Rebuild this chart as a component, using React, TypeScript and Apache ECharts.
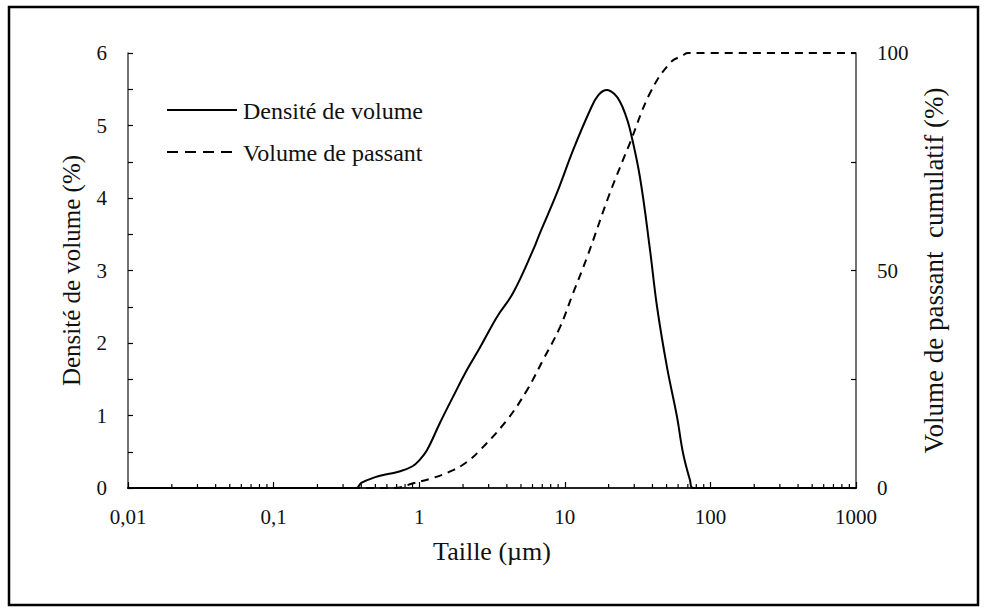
import React, { useEffect, useRef } from "react";
import * as echarts from "echarts";

const densitySizes = [0.01, 0.37, 0.4, 0.5, 0.6, 0.74, 0.9, 1.0, 1.13, 1.39, 1.71, 2.13, 2.62, 3.42, 4.41, 6.05, 6.76, 8.83, 11.4, 14.9, 17.0, 19.5, 22.0, 23.9, 26.0, 28, 32.8, 38.5, 43, 50.3, 59, 64.9, 72.4, 76, 1000];
const densityValues = [0, 0, 0.07, 0.15, 0.19, 0.23, 0.3, 0.38, 0.52, 0.9, 1.26, 1.63, 1.94, 2.36, 2.69, 3.28, 3.52, 4.07, 4.66, 5.21, 5.42, 5.49, 5.43, 5.33, 5.16, 4.95, 4.29, 3.28, 2.5, 1.67, 0.98, 0.48, 0.11, 0, 0];

const cumulSizes = [0.01, 0.68, 0.91, 1.24, 1.71, 2.13, 2.62, 4.0, 5.5, 7.08, 9.27, 11.4, 14.2, 20.4, 28, 38.5, 52.8, 65, 70, 1000];
const cumulValues = [0, 0, 1.1, 2.3, 4.1, 6, 8.7, 15.6, 22.5, 29.4, 37, 44.8, 53, 67.8, 79.3, 90.8, 97.7, 99.5, 100, 100];

const xTickValues = [0.01, 0.1, 1, 10, 100, 1000];
const xTickLabels = ["0,01", "0,1", "1", "10", "100", "1000"];
const minorTickValues = [
  0.02, 0.03, 0.04, 0.05, 0.06, 0.07, 0.08, 0.09,
  0.2, 0.3, 0.4, 0.5, 0.6, 0.7, 0.8, 0.9,
  2, 3, 4, 5, 6, 7, 8, 9,
  20, 30, 40, 50, 60, 70, 80, 90,
  200, 300, 400, 500, 600, 700, 800, 900,
];

const seriesNames = ["Densité de volume", "Volume de passant"];
const xTitle = "Taille (µm)";
const yLeftTitle = "Densité de volume (%)";
const yRightTitle = "Volume de passant  cumulatif (%)";

const FONT = "Liberation Serif";
const INK = "#111";

function labelFor(v: number): string {
  let best = 0;
  for (let i = 1; i < xTickValues.length; i++) {
    if (Math.abs(Math.log10(v) - Math.log10(xTickValues[i])) < Math.abs(Math.log10(v) - Math.log10(xTickValues[best]))) best = i;
  }
  return xTickLabels[best];
}

export default function App() {
  const ref = useRef<HTMLDivElement>(null);
  useEffect(() => {
    if (!ref.current) return;
    const chart = echarts.init(ref.current, undefined, { renderer: "svg" });
    chart.setOption({
      animation: false,
      backgroundColor: "#fff",
      textStyle: { fontFamily: FONT, color: INK },
      grid: { left: 128, right: 133, top: 53, bottom: 128, containLabel: false },
      graphic: [
        {
          type: "rect",
          shape: { x: 9, y: 7, width: 969, height: 598 },
          style: { fill: "none", stroke: "#000", lineWidth: 2.5 },
          silent: true,
        },
        {
          type: "line",
          shape: { x1: 167, y1: 110, x2: 237, y2: 110 },
          style: { stroke: "#000", lineWidth: 2 },
          silent: true,
        },
        {
          type: "text",
          x: 243,
          y: 111,
          style: { text: seriesNames[0], font: `24px "${FONT}"`, fill: INK, verticalAlign: "middle", align: "left" },
          silent: true,
        },
        {
          type: "line",
          shape: { x1: 167, y1: 152, x2: 237, y2: 152 },
          style: { stroke: "#000", lineWidth: 2, lineDash: [11, 7] },
          silent: true,
        },
        {
          type: "text",
          x: 243,
          y: 153,
          style: { text: seriesNames[1], font: `24px "${FONT}"`, fill: INK, verticalAlign: "middle", align: "left" },
          silent: true,
        },
      ],
      xAxis: [
        {
          type: "log",
          logBase: 10,
          min: 0.01,
          max: 1000,
          name: xTitle,
          nameLocation: "middle",
          nameGap: 50,
          nameTextStyle: { fontFamily: FONT, fontSize: 26, color: INK },
          axisLine: { show: true, lineStyle: { color: "#000", width: 2 } },
          axisTick: { show: true, inside: true, length: 6, lineStyle: { color: "#000", width: 1.2 } },
          axisLabel: {
            fontFamily: FONT,
            fontSize: 21,
            color: INK,
            margin: 18,
            formatter: (v: number) => labelFor(v),
          },
          splitLine: { show: false },
        },
        {
          type: "log",
          logBase: 10,
          min: 0.01,
          max: 1000,
          position: "top",
          axisLine: { show: true, lineStyle: { color: "#222", width: 2.2 } },
          axisTick: { show: false },
          axisLabel: { show: false },
          splitLine: { show: false },
        },
      ],
      yAxis: [
        {
          type: "value",
          min: 0,
          max: 6,
          interval: 1,
          name: yLeftTitle,
          nameLocation: "middle",
          nameRotate: 90,
          nameGap: 44,
          nameTextStyle: { fontFamily: FONT, fontSize: 25, color: INK },
          axisLine: { show: true, lineStyle: { color: "#444", width: 1.5 } },
          axisTick: { show: true, inside: true, length: 5, lineStyle: { color: "#000", width: 1.2 } },
          minorTick: { show: true, splitNumber: 2, length: 5, lineStyle: { color: "#000", width: 1.2 } },
          axisLabel: { fontFamily: FONT, fontSize: 21, color: INK, margin: 21 },
          splitLine: { show: false },
        },
        {
          type: "value",
          min: 0,
          max: 100,
          interval: 50,
          position: "right",
          name: yRightTitle,
          nameLocation: "middle",
          nameRotate: 90,
          nameGap: 64,
          nameTextStyle: { fontFamily: FONT, fontSize: 27, color: INK },
          axisLine: { show: true, lineStyle: { color: "#444", width: 1.5 } },
          axisTick: { show: true, inside: true, length: 5, lineStyle: { color: "#000", width: 1.2 } },
          minorTick: { show: true, splitNumber: 2, length: 5, lineStyle: { color: "#000", width: 1.2 } },
          axisLabel: { fontFamily: FONT, fontSize: 21, color: INK, margin: 21 },
          splitLine: { show: false },
        },
      ],
      series: [
        {
          name: seriesNames[0],
          type: "line",
          xAxisIndex: 0,
          yAxisIndex: 0,
          data: densitySizes.map((s, i) => [s, densityValues[i]]),
          showSymbol: false,
          symbol: "none",
          smooth: 0.4,
          lineStyle: { color: "#000", width: 2, type: "solid" },
          itemStyle: { color: "#000" },
          z: 3,
        },
        {
          name: seriesNames[1],
          type: "line",
          xAxisIndex: 0,
          yAxisIndex: 1,
          data: cumulSizes.map((s, i) => [s, cumulValues[i]]),
          showSymbol: false,
          symbol: "none",
          smooth: 0.4,
          lineStyle: { color: "#000", width: 2, type: [8, 6] },
          itemStyle: { color: "#000" },
          z: 3,
        },
        {
          name: "minorTicks",
          type: "custom",
          xAxisIndex: 0,
          yAxisIndex: 0,
          silent: true,
          data: minorTickValues.map((v) => [v, 0]),
          renderItem: (params: any, api: any) => {
            const p = api.coord([api.value(0), 0]);
            return {
              type: "line",
              shape: { x1: p[0], y1: p[1], x2: p[0], y2: p[1] - 4 },
              style: { stroke: "#000", lineWidth: 1.2 },
            };
          },
          z: 2,
        },
      ],
    });
    return () => chart.dispose();
  }, []);
  return (
    <div
      ref={ref}
      style={{ position: "fixed", left: 0, top: 0, width: 989, height: 616, background: "#fff" }}
    />
  );
}
